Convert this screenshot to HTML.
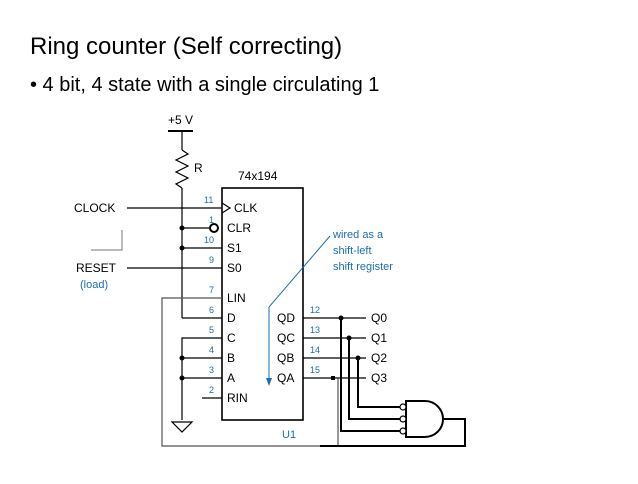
<!DOCTYPE html>
<html><head><style>
body{margin:0;background:#fff;width:638px;height:479px;overflow:hidden;font-family:"Liberation Sans",sans-serif}
</style></head><body>
<svg width="638" height="479" xmlns="http://www.w3.org/2000/svg" font-family="Liberation Sans, sans-serif">
<text x="30" y="54" font-size="24" fill="#000">Ring counter (Self correcting)</text>
<text x="30" y="91" font-size="20" fill="#000">• 4 bit, 4 state with a single circulating 1</text>
<g stroke="#000" stroke-width="1.2" fill="none">
<line x1="168" y1="131" x2="193" y2="131" stroke-width="2"/>
<line x1="182" y1="131" x2="182" y2="150"/>
<polyline points="182,150 188,154 176,160 188,166 176,172 188,178 176,184 182,188"/>
<line x1="182" y1="188" x2="182" y2="318"/>
<rect x="222" y="188" width="81" height="232" stroke-width="1.6"/>
<line x1="127" y1="208" x2="222" y2="208"/>
<polyline points="222,203 230,208 222,213"/>
<line x1="182" y1="228" x2="210" y2="228"/>
<circle cx="214" cy="228" r="4" stroke-width="2"/>
<line x1="182" y1="248" x2="222" y2="248"/>
<line x1="127" y1="268" x2="222" y2="268"/>
<polyline points="222,298 162,298 162,446 337,446" stroke="#555"/>
<line x1="182" y1="318" x2="222" y2="318"/>
<polyline points="222,338 182,338 182,420"/>
<polygon points="172,422 192,422 182,432"/>
<line x1="182" y1="358" x2="222" y2="358"/>
<line x1="182" y1="378" x2="222" y2="378"/>
<line x1="202" y1="398" x2="222" y2="398"/>
<line x1="303" y1="318" x2="366" y2="318"/>
<line x1="303" y1="338" x2="366" y2="338"/>
<line x1="303" y1="358" x2="366" y2="358"/>
<line x1="303" y1="378" x2="366" y2="378"/>
<line x1="338" y1="378" x2="338" y2="446" stroke="#555"/>
<g stroke-width="2">
<polyline points="341,318 341,431 402,431"/>
<polyline points="349,338 349,419 402,419"/>
<polyline points="358,358 358,407 402,407"/>
<polyline points="443,419 465,419 465,446 320,446"/>
<path d="M406,401 L425,401 A18,18 0 0 1 425,437 L406,437 Z"/>
</g>
<circle cx="403" cy="407" r="3" fill="#fff"/>
<circle cx="403" cy="419" r="3" fill="#fff"/>
<circle cx="403" cy="431" r="3" fill="#fff"/>
<polyline points="122,230 122,250 91,250" stroke="#777" stroke-width="1"/>
</g>
<g fill="#000">
<circle cx="182" cy="228" r="2.5"/><circle cx="182" cy="248" r="2.5"/>
<circle cx="182" cy="358" r="2.5"/><circle cx="182" cy="378" r="2.5"/>
<circle cx="341" cy="318" r="2.5"/><circle cx="349" cy="338" r="2.5"/>
<circle cx="358" cy="358" r="2.5"/><rect x="331" y="376" width="4" height="4"/>
</g>
<g stroke="#1a6eb0" fill="none" stroke-width="1">
<polyline points="330,236 269,307 269,380"/>
</g>
<polygon points="266,378 272,378 269,386" fill="#1a6eb0"/>
<g font-size="12" fill="#000">
<text x="168" y="124">+5 V</text>
<text x="194" y="172">R</text>
<text x="238" y="180">74x194</text>
<text x="74" y="212">CLOCK</text>
<text x="76" y="272">RESET</text>
<text x="234" y="212">CLK</text>
<text x="227" y="232">CLR</text>
<text x="227" y="252">S1</text>
<text x="227" y="272">S0</text>
<text x="227" y="302">LIN</text>
<text x="227" y="322">D</text>
<text x="227" y="342">C</text>
<text x="227" y="362">B</text>
<text x="227" y="382">A</text>
<text x="227" y="402">RIN</text>
<text x="277" y="322">QD</text>
<text x="277" y="342">QC</text>
<text x="277" y="362">QB</text>
<text x="277" y="382">QA</text>
<text x="371" y="322">Q0</text>
<text x="371" y="342">Q1</text>
<text x="371" y="362">Q2</text>
<text x="371" y="382">Q3</text>
</g>
<g font-size="11" fill="#1a6eb0">
<text x="80" y="288">(load)</text>
<text x="282" y="438">U1</text>
<text x="333" y="238">wired as a</text>
<text x="333" y="254">shift-left</text>
<text x="333" y="270">shift register</text>
</g>
<g font-size="9" fill="#1a6eb0">
<text x="204" y="203">11</text><text x="209" y="223">1</text><text x="204" y="243">10</text>
<text x="209" y="263">9</text><text x="209" y="293">7</text><text x="209" y="313">6</text>
<text x="209" y="333">5</text><text x="209" y="353">4</text><text x="209" y="373">3</text>
<text x="209" y="393">2</text>
<text x="310" y="313">12</text><text x="310" y="333">13</text><text x="310" y="353">14</text><text x="310" y="373">15</text>
</g>
</svg>
</body></html>
